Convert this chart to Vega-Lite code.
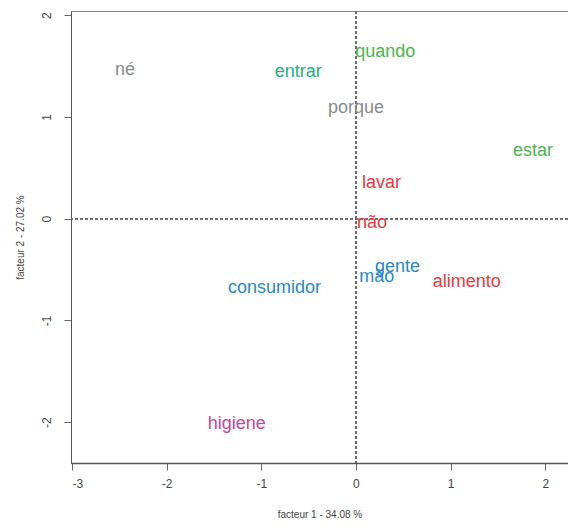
{
  "$schema": "https://vega.github.io/schema/vega-lite/v6.json",
  "width": 497,
  "height": 452,
  "autosize": {"type": "none"},
  "padding": {"left": 71, "top": 11, "right": 0, "bottom": 67},
  "background": "white",
  "config": {
    "font": "Liberation Sans",
    "view": {"stroke": "#888888", "strokeWidth": 1},
    "axis": {
      "grid": false,
      "domainColor": "#555555",
      "tickColor": "#666666",
      "labelColor": "#444444",
      "titleColor": "#444444",
      "labelFontSize": 12,
      "titleFontSize": 10,
      "titleFontWeight": "normal",
      "tickSize": 7
    }
  },
  "data": {
    "values": [
      {"word": "né", "f1": -2.44, "f2": 1.46, "group": "g"},
      {"word": "quando", "f1": 0.31, "f2": 1.64, "group": "v"},
      {"word": "entrar", "f1": -0.61, "f2": 1.44, "group": "t"},
      {"word": "porque", "f1": 0.0, "f2": 1.09, "group": "g"},
      {"word": "estar", "f1": 1.87, "f2": 0.66, "group": "v"},
      {"word": "lavar", "f1": 0.27, "f2": 0.35, "group": "r"},
      {"word": "não", "f1": 0.17, "f2": -0.04, "group": "r"},
      {"word": "gente", "f1": 0.44, "f2": -0.47, "group": "b"},
      {"word": "mão", "f1": 0.22, "f2": -0.57, "group": "b"},
      {"word": "alimento", "f1": 1.17, "f2": -0.62, "group": "r"},
      {"word": "consumidor", "f1": -0.86, "f2": -0.68, "group": "b"},
      {"word": "higiene", "f1": -1.26, "f2": -2.02, "group": "m"}
    ]
  },
  "layer": [
    {
      "mark": {"type": "rule", "stroke": "#6a6a6a", "strokeDash": [3, 2], "strokeWidth": 1},
      "encoding": {"x": {"datum": 0, "type": "quantitative"}}
    },
    {
      "mark": {"type": "rule", "stroke": "#6a6a6a", "strokeDash": [3, 2], "strokeWidth": 1},
      "encoding": {"y": {"datum": 0, "type": "quantitative"}}
    },
    {
      "mark": {"type": "text", "fontSize": 18, "align": "center", "baseline": "middle"},
      "encoding": {
        "x": {
          "field": "f1", "type": "quantitative",
          "scale": {"domain": [-3.01, 2.24], "nice": false, "zero": false},
          "axis": {
            "values": [-3, -2, -1, 0, 1, 2],
            "labelExpr": "datum.value + ''",
            "title": "facteur  1  - 34.08 %",
            "labelPadding": 8,
            "titlePadding": 20,
            "domainWidth": 1.5
          }
        },
        "y": {
          "field": "f2", "type": "quantitative",
          "scale": {"domain": [-2.4, 2.04], "nice": false, "zero": false},
          "axis": {
            "values": [-2, -1, 0, 1, 2],
            "labelExpr": "datum.value + ''",
            "title": "facteur  2  - 27.02 %",
            "labelAngle": -90,
            "labelAlign": "center",
            "labelBaseline": "bottom",
            "labelPadding": 11,
            "titlePadding": 15
          }
        },
        "text": {"field": "word"},
        "color": {
          "field": "group", "type": "nominal", "legend": null,
          "scale": {
            "domain": ["g", "v", "t", "r", "b", "m"],
            "range": ["#8a8a8a", "#4cb54a", "#25ad7c", "#e8383d", "#2a87c8", "#c4459b"]
          }
        }
      }
    }
  ]
}
